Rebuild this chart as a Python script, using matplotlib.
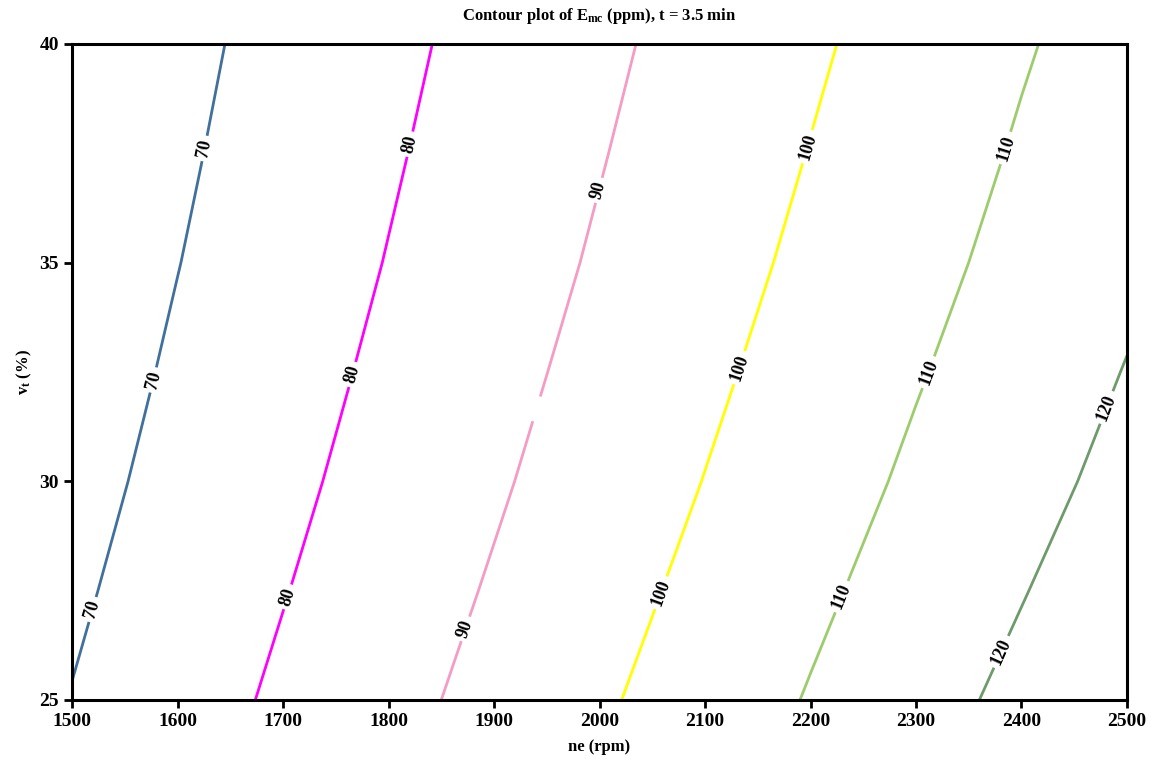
import matplotlib
matplotlib.use('Agg')
import matplotlib.pyplot as plt
import numpy as np

plt.rcParams['font.family'] = ['Liberation Serif', 'DejaVu Serif']
plt.rcParams['font.weight'] = 'bold'
plt.rcParams['mathtext.fontset'] = 'custom'
plt.rcParams['mathtext.rm'] = 'Liberation Serif:bold'
plt.rcParams['mathtext.it'] = 'Liberation Serif:bold'

# grid: E_mc (ppm) at each ne / vt node
ne = [1500, 1600, 1700, 1800, 1900, 2000, 2100, 2200, 2300, 2400, 2500]
vt = [25, 27.5, 30, 32.5, 35, 37.5, 40]
e_mc = [
    [70.28, 75.87, 81.47, 87.12, 92.88, 98.76, 104.67, 110.59, 116.47, 122.35, 128.24],
    [68.65, 74.14, 79.65, 85.21, 90.83, 96.59, 102.37, 108.17, 113.91, 119.59, 125.44],
    [67.13, 72.53, 77.94, 83.41, 88.90, 94.53, 100.19, 105.87, 111.47, 116.94, 122.69],
    [65.80, 71.12, 76.44, 81.80, 87.20, 92.70, 98.26, 103.83, 109.36, 114.72, 120.35],
    [64.60, 69.83, 75.07, 80.31, 85.63, 90.99, 96.46, 101.92, 107.38, 112.63, 118.01],
    [63.57, 68.72, 73.88, 79.04, 84.26, 89.54, 94.89, 100.25, 105.61, 110.87, 116.02],
    [62.64, 67.72, 72.79, 77.87, 83.00, 88.19, 93.42, 98.68, 103.95, 109.21, 114.07],
]
levels = [70, 80, 90, 100, 110, 120]
colors = ['#41709c', '#ff00ff', '#f49cc4', '#ffff00', '#9ccc6c', '#6f9a6c']

# where the inline labels sit
label_pos = [
    (1515, 27.1), (1580, 32.3), (1628, 37.6),
    (1712, 27.3), (1772, 32.4), (1822, 37.7),
    (1876, 26.6), (1948, 31.6), (2008, 36.6),
    (2064, 27.4), (2145, 32.5), (2205, 37.6),
    (2236, 27.3), (2322, 32.4), (2388, 37.6),
    (2390, 26.0), (2490, 31.6),
]

fig = plt.figure(figsize=(11.54, 7.65), dpi=100)
ax = fig.add_axes([0.0624, 0.085, 0.9142, 0.8575])

cs = ax.contour(ne, vt, e_mc, levels=levels, colors=colors, linewidths=2.0)
labels = ax.clabel(cs, fmt='%d', manual=label_pos, inline=True, fontsize=13,
                   inline_spacing=4)
for t in labels:
    t.set_fontweight('bold')
    t.set_color('black')
    # the middle 90 label is left blank in the original, only the gap shows
    if abs(t.get_position()[1] - 31.6) < 0.6 and t.get_text() == '90':
        t.set_text('')

ax.set_xlim(1500, 2500)
ax.set_ylim(25, 40)
ax.set_xticks(ne)
ax.set_yticks([25, 30, 35, 40])
ax.tick_params(direction='out', length=6, width=2, labelsize=14)
for s in ax.spines.values():
    s.set_linewidth(2.2)

ax.set_xlabel('ne (rpm)', fontsize=12, fontweight='bold', labelpad=6)
ax.set_ylabel('v$_{t}$ (%)', fontsize=12, fontweight='bold', labelpad=4)
ax.set_title('Contour plot of E$_{\\mathrm{mc}}$ (ppm), t = 3.5 min', fontsize=12,
             fontweight='bold', pad=17)

fig.savefig('out.png', dpi=100)
